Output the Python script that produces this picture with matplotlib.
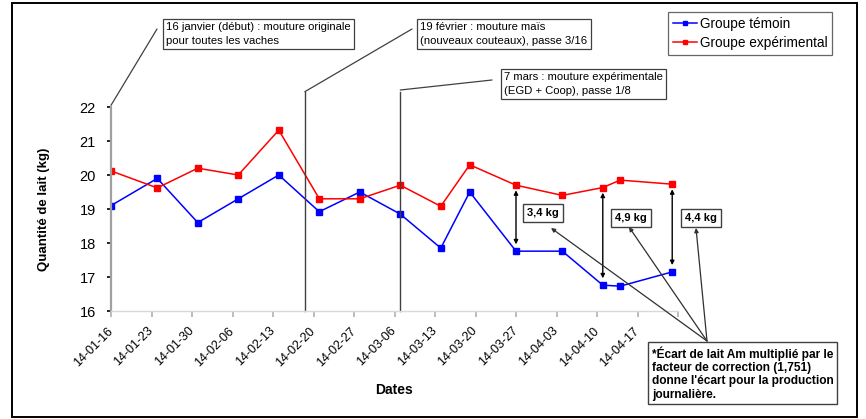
import numpy as np
import pandas as pd
import matplotlib
matplotlib.use("Agg")
import matplotlib.pyplot as plt
from matplotlib.patches import Rectangle

plt.rcParams['font.family'] = ['Liberation Sans', 'DejaVu Sans']

# données
dates = pd.to_datetime(["2014-01-16", "2014-01-24", "2014-01-31", "2014-02-07", "2014-02-14",
                        "2014-02-21", "2014-02-28", "2014-03-07", "2014-03-14", "2014-03-19",
                        "2014-03-27", "2014-04-04", "2014-04-11", "2014-04-14", "2014-04-23"])
temoin = [19.1, 19.9, 18.6, 19.3, 20.0, 18.92, 19.5, 18.85, 17.85, 19.5,
          17.76, 17.76, 16.76, 16.73, 17.15]
experimental = [20.12, 19.62, 20.2, 20.0, 21.32, 19.3, 19.3, 19.7, 19.08, 20.3,
                19.7, 19.4, 19.63, 19.85, 19.73]

tick_dates = pd.date_range("2014-01-16", "2014-04-24", freq="7D")
tick_labels = ["14-01-16", "14-01-23", "14-01-30", "14-02-06", "14-02-13", "14-02-20",
               "14-02-27", "14-03-06", "14-03-13", "14-03-20", "14-03-27", "14-04-03",
               "14-04-10", "14-04-17", ""]

events = pd.to_datetime(["2014-02-18 12:00", "2014-03-07 00:00"])
ecart_idx = [10, 12, 14]
ecart_labels = ["3,4 kg", "4,9 kg", "4,4 kg"]

W, H = 866, 419
fig = plt.figure(figsize=(W / 100, H / 100), dpi=100)

def px(x, y):
    return (x / W, 1 - y / H)

ax = fig.add_axes([111 / W, 1 - 311 / H, (678 - 111) / W, (311 - 107) / H])

ax.plot(dates, temoin, color="#0000ff", lw=1.1, marker="s", ms=4, label="Groupe témoin")
ax.plot(dates, experimental, color="#ff0000", lw=1.1, marker="s", ms=4, label="Groupe expérimental")

ax.set_ylim(16, 22)
ax.set_yticks(range(16, 23))
ax.set_xlim(tick_dates[0], tick_dates[-1])
ax.set_xticks(tick_dates)
ax.set_xticklabels(tick_labels, rotation=45, ha="right", va="center", rotation_mode="anchor")

for s in ["top", "right"]:
    ax.spines[s].set_visible(False)
ax.spines["left"].set_color("#a0a0a0")
ax.spines["left"].set_linewidth(1.6)
ax.spines["bottom"].set_color("#d8d8d8")
ax.spines["bottom"].set_linewidth(1.0)
ax.tick_params(axis="y", labelsize=10.5, length=3, width=1.2, color="black", pad=8)
ax.tick_params(axis="x", labelsize=9, length=4, width=1.2, color="#b0b0b0", pad=9)

ax.set_ylabel("Quantité de lait (kg)", fontsize=9.5, fontweight="bold", labelpad=21)
ax.set_xlabel("Dates", fontsize=10, fontweight="bold", labelpad=10)

# lignes verticales des changements de mouture
for d in events:
    ax.plot([d, d], [16, 22.45], color="#404040", lw=1.0, clip_on=False)

# renvois vers les boîtes de texte
lead = dict(arrowstyle="-", color="#404040", lw=0.9, shrinkA=0, shrinkB=0)
ax.annotate("", xy=(dates[0], 22.05), xycoords="data", xytext=px(157, 29),
            textcoords="figure fraction", arrowprops=lead, annotation_clip=False)
ax.annotate("", xy=(events[0], 22.45), xycoords="data", xytext=px(412, 29),
            textcoords="figure fraction", arrowprops=lead, annotation_clip=False)
ax.annotate("", xy=(events[1], 22.5), xycoords="data", xytext=px(492, 80),
            textcoords="figure fraction", arrowprops=lead, annotation_clip=False)

box = dict(boxstyle="square,pad=0.3", fc="white", ec="#404040", lw=0.9)
fig.text(*px(166, 22), "16 janvier (début) : mouture originale\npour toutes les vaches",
         fontsize=8.1, ha="left", va="top", linespacing=1.5, bbox=box)
fig.text(*px(420, 22), "19 février : mouture maïs\n(nouveaux couteaux), passe 3/16",
         fontsize=8.1, ha="left", va="top", linespacing=1.5, bbox=box)
fig.text(*px(504, 72), "7 mars : mouture expérimentale\n(EGD + Coop), passe 1/8",
         fontsize=8.1, ha="left", va="top", linespacing=1.5, bbox=box)

# écarts entre les groupes
for i in ecart_idx:
    ax.annotate("", xy=(dates[i], temoin[i] + 0.2), xytext=(dates[i], experimental[i] - 0.15),
                arrowprops=dict(arrowstyle="<|-|>", color="black", lw=1.0,
                                mutation_scale=6, shrinkA=0, shrinkB=0))

lab_pos = [(543, 213), (631, 218), (701, 218)]
arr_tip = [(551, 228), (629, 227), (696, 228)]
for (x, y), t in zip(lab_pos, ecart_labels):
    fig.text(*px(x, y), t, fontsize=8, fontweight="bold", ha="center", va="center",
             bbox=dict(boxstyle="square,pad=0.35", fc="white", ec="#404040", lw=1.0))
for tip in arr_tip:
    ax.annotate("", xy=px(*tip), xycoords="figure fraction", xytext=px(707, 341),
                textcoords="figure fraction",
                arrowprops=dict(arrowstyle="-|>", color="#303030", lw=0.9,
                                mutation_scale=6, shrinkA=0, shrinkB=0))

fig.text(*px(652, 346), "*Écart de lait Am multiplié par le\nfacteur de correction (1,751)\n"
         "donne l'écart pour la production\njournalière.",
         fontsize=8.6, fontweight="bold", ha="left", va="top", linespacing=1.15,
         bbox=dict(boxstyle="square,pad=0.3", fc="white", ec="#404040", lw=1.0))

leg = fig.legend(loc="upper left", bbox_to_anchor=px(668, 12), fontsize=9.8, frameon=True,
                 fancybox=False, edgecolor="#404040", handlelength=1.8, handletextpad=0.2,
                 borderpad=0.35, labelspacing=0.4, markerscale=0.8, borderaxespad=0)
leg.get_frame().set_linewidth(0.9)

# cadre extérieur
fig.patches.append(Rectangle(px(12, 417), 845 / W, 414 / H, transform=fig.transFigure,
                             fill=False, ec="black", lw=1.4))

fig.savefig("out.png", dpi=100)
